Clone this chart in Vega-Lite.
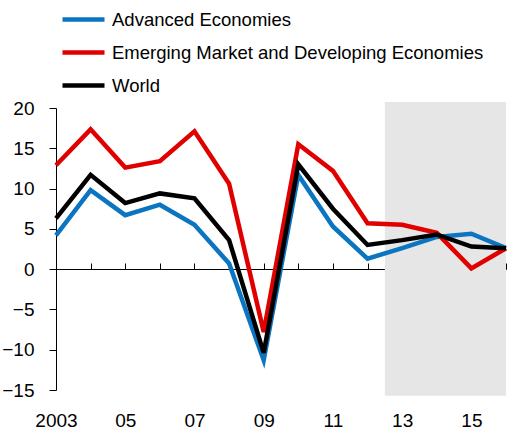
{
  "$schema": "https://vega.github.io/schema/vega-lite/v6.json",
  "width": 450,
  "height": 282,
  "autosize": {"type": "none"},
  "padding": {"left": 56, "top": 108, "right": 3, "bottom": 41},
  "background": "white",
  "config": {
    "font": "Liberation Sans",
    "view": {"stroke": null},
    "axis": {"grid": false, "domainColor": "#000", "tickColor": "#000", "labelColor": "#000", "labelFont": "Liberation Sans", "labelFontSize": 19, "domainWidth": 1, "tickWidth": 1}
  },
  "resolve": {"axis": {"x": "independent"}},
  "layer": [
    {
      "data": {"values": [{"start": 2012.5, "end": 2016, "top": 20.75, "bottom": -15.7}]},
      "mark": {"type": "rect", "color": "#e6e6e6", "clip": false},
      "encoding": {
        "x": {"field": "start", "type": "quantitative", "scale": {"domain": [2003, 2016], "nice": false, "zero": false},
          "axis": {"orient": "bottom", "title": null, "values": [2003, 2005, 2007, 2009, 2011, 2013, 2015], "labelExpr": "datum.value == 2003 ? '2003' : substring(toString(datum.value), 2)", "domain": false, "ticks": false, "labelPadding": 21, "labelFlush": false, "labelOverlap": false}},
        "x2": {"field": "end"},
        "y": {"field": "top", "type": "quantitative", "scale": {"domain": [-15, 20], "nice": false, "zero": false},
          "axis": {"title": null, "values": [-15, -10, -5, 0, 5, 10, 15, 20], "tickSize": 7, "labelPadding": 15, "labelFlush": false, "labelOverlap": false}},
        "y2": {"field": "bottom"}
      }
    },
    {
      "data": {"values": [
        {"year": 2003, "series": "Advanced Economies", "value": 4.2},
        {"year": 2004, "series": "Advanced Economies", "value": 9.8},
        {"year": 2005, "series": "Advanced Economies", "value": 6.7},
        {"year": 2006, "series": "Advanced Economies", "value": 8.0},
        {"year": 2007, "series": "Advanced Economies", "value": 5.5},
        {"year": 2008, "series": "Advanced Economies", "value": 0.7},
        {"year": 2009, "series": "Advanced Economies", "value": -11.3},
        {"year": 2010, "series": "Advanced Economies", "value": 11.7},
        {"year": 2011, "series": "Advanced Economies", "value": 5.3},
        {"year": 2012, "series": "Advanced Economies", "value": 1.3},
        {"year": 2013, "series": "Advanced Economies", "value": 2.6},
        {"year": 2014, "series": "Advanced Economies", "value": 4.0},
        {"year": 2015, "series": "Advanced Economies", "value": 4.4},
        {"year": 2016, "series": "Advanced Economies", "value": 2.6},
        {"year": 2003, "series": "Emerging Market and Developing Economies", "value": 12.9},
        {"year": 2004, "series": "Emerging Market and Developing Economies", "value": 17.35},
        {"year": 2005, "series": "Emerging Market and Developing Economies", "value": 12.6},
        {"year": 2006, "series": "Emerging Market and Developing Economies", "value": 13.4},
        {"year": 2007, "series": "Emerging Market and Developing Economies", "value": 17.1},
        {"year": 2008, "series": "Emerging Market and Developing Economies", "value": 10.6},
        {"year": 2009, "series": "Emerging Market and Developing Economies", "value": -7.8},
        {"year": 2010, "series": "Emerging Market and Developing Economies", "value": 15.5},
        {"year": 2011, "series": "Emerging Market and Developing Economies", "value": 12.2},
        {"year": 2012, "series": "Emerging Market and Developing Economies", "value": 5.7},
        {"year": 2013, "series": "Emerging Market and Developing Economies", "value": 5.5},
        {"year": 2014, "series": "Emerging Market and Developing Economies", "value": 4.5},
        {"year": 2015, "series": "Emerging Market and Developing Economies", "value": 0.1},
        {"year": 2016, "series": "Emerging Market and Developing Economies", "value": 2.6},
        {"year": 2003, "series": "World", "value": 6.3},
        {"year": 2004, "series": "World", "value": 11.7},
        {"year": 2005, "series": "World", "value": 8.2},
        {"year": 2006, "series": "World", "value": 9.4},
        {"year": 2007, "series": "World", "value": 8.8},
        {"year": 2008, "series": "World", "value": 3.6},
        {"year": 2009, "series": "World", "value": -10.4},
        {"year": 2010, "series": "World", "value": 13.0},
        {"year": 2011, "series": "World", "value": 7.5},
        {"year": 2012, "series": "World", "value": 3.0},
        {"year": 2013, "series": "World", "value": 3.6},
        {"year": 2014, "series": "World", "value": 4.3},
        {"year": 2015, "series": "World", "value": 2.8},
        {"year": 2016, "series": "World", "value": 2.6}
      ]},
      "mark": {"type": "line", "strokeWidth": 4.5},
      "encoding": {
        "x": {"field": "year", "type": "quantitative",
          "axis": {"orient": "bottom", "title": null, "values": [2004, 2005, 2006, 2007, 2008, 2009, 2010, 2011, 2012, 2013, 2014, 2015, 2016], "labels": false, "tickSize": -6, "offset": -121, "domain": true, "ticks": true}},
        "y": {"field": "value", "type": "quantitative"},
        "color": {"field": "series", "type": "nominal",
          "scale": {"domain": ["Advanced Economies", "Emerging Market and Developing Economies", "World"], "range": ["#0b75c1", "#e00000", "#000000"]},
          "legend": {"title": null, "orient": "none", "legendX": 4, "legendY": -112, "symbolType": "stroke", "symbolSize": 1764, "symbolStrokeWidth": 4.5, "labelFontSize": 18.5, "labelFont": "Liberation Sans", "labelColor": "#000", "labelOffset": 5, "labelLimit": 500, "rowPadding": 0}
        }
      }
    }
  ]
}
